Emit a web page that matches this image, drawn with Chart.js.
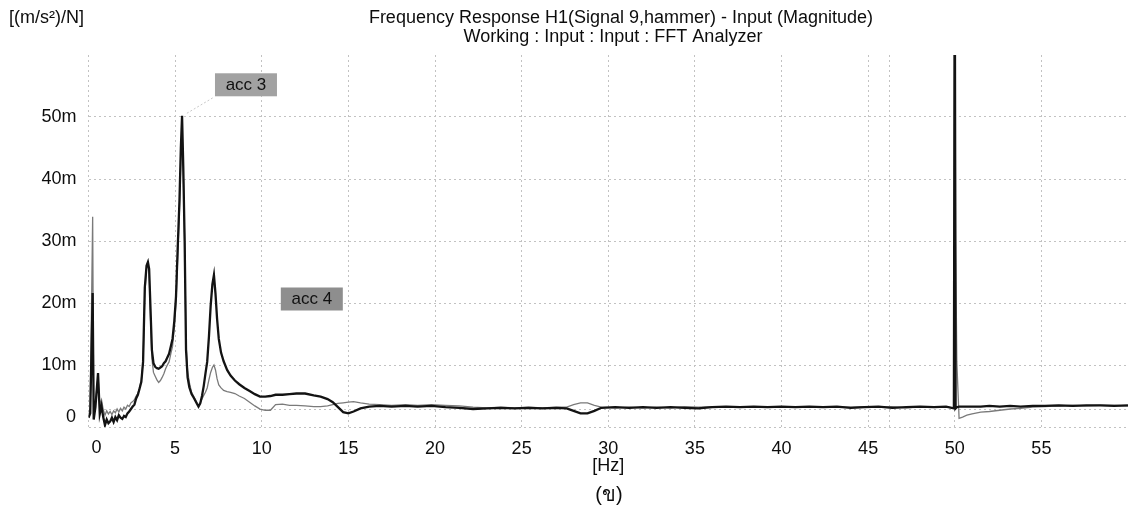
<!DOCTYPE html>
<html>
<head>
<meta charset="utf-8">
<script src="https://cdn.jsdelivr.net/npm/chart.js@4.4.1/dist/chart.umd.min.js"></script>
<style>
  html, body { margin: 0; padding: 0; background: #ffffff; }
  #wrap { position: relative; width: 1134px; height: 526px; }
  canvas { display: block; }
</style>
</head>
<body>
<div id="wrap"><canvas id="c" width="1134" height="526"></canvas></div>
<script>
// ---------- texts ----------
const titleLines = ['Frequency Response H1(Signal 9,hammer) - Input (Magnitude)', 'Working : Input : Input : FFT Analyzer'];
const unitLabel = '[(m/s\u00B2)/N]';
const xAxisTitle = '[Hz]';
const figureLabel = '(\u0E02)';
const seriesNames = ['acc 3', 'acc 4'];

// ---------- ticks ----------
const xTicks = [0, 5, 10, 15, 20, 25, 30, 35, 40, 45, 50, 55];
const xExtraLines = [46.25];
const yTicks = [0, 10, 20, 30, 40, 50];
const yTickLabels = ['0', '10m', '20m', '30m', '40m', '50m'];
const yExtraLines = [2.9];

// ---------- data (frequency in Hz, magnitude in m(m/s²)/N) ----------
const freq = [
  0, 0.1, 0.24, 0.3, 0.4, 0.55, 0.65, 0.75, 0.85, 0.95,
  1.05, 1.15, 1.25, 1.35, 1.45, 1.55, 1.65, 1.75, 1.85, 1.95,
  2.05, 2.15, 2.25, 2.35, 2.45, 2.55, 2.65, 2.75, 2.85, 2.95,
  3.05, 3.15, 3.25, 3.35, 3.43, 3.5, 3.58, 3.66, 3.75, 3.85,
  3.95, 4.05, 4.15, 4.25, 4.35, 4.45, 4.55, 4.65, 4.75, 4.85,
  4.95, 5.05, 5.15, 5.25, 5.33, 5.4, 5.47, 5.55, 5.63, 5.72,
  5.82, 5.95, 6.1, 6.25, 6.35, 6.45, 6.55, 6.65, 6.75, 6.85,
  6.95, 7.05, 7.15, 7.24, 7.33, 7.42, 7.52, 7.65, 7.8, 8.0,
  8.2, 8.45, 8.7, 9.0, 9.3, 9.6, 9.9, 10.2, 10.5, 10.8,
  11.2, 11.6, 12.0, 12.5, 13.0, 13.4, 13.8, 14.1, 14.4, 14.7,
  15.0, 15.3, 15.7, 16.2, 16.8, 17.5, 18.3, 19.0, 19.8, 20.6,
  21.4, 22.2, 23.0, 23.8, 24.6, 25.4, 26.2, 27.0, 27.6, 28.0,
  28.4, 28.8, 29.2, 29.6, 30.4, 31.2, 32.0, 32.8, 33.6, 34.4,
  35.2, 36.0, 36.8, 37.6, 38.4, 39.2, 40.0, 40.8, 41.6, 42.4,
  43.2, 44.0, 44.8, 45.6, 46.4, 47.2, 48.0, 48.8, 49.5, 49.95,
  50.0, 50.05, 50.12, 50.25, 50.45, 50.7, 51.0, 51.5, 52.0, 52.6,
  53.2, 53.8, 54.5, 55.2, 56.0, 56.8, 57.6, 58.4, 59.2, 60.0
];
const acc3 = [
  1.5, 2.2, 21.6, 1.2, 3.2, 8.7, 2.1, 3.4, 1.6, 0.3,
  1.2, 0.6, 0.9, 1.5, 0.8, 1.6, 1.1, 1.9, 1.5, 1.3,
  1.8, 1.6, 2.2, 2.5, 2.9, 3.3, 3.6, 4.6, 5.2, 6.2,
  7.3, 10.5, 22.5, 26.0, 26.6, 25.5, 19.0, 12.4, 10.3, 9.7,
  9.5, 9.4, 9.6, 9.8, 10.3, 10.6, 11.2, 11.8, 13.0, 14.2,
  17.0, 21.0, 29.0, 36.5, 45.0, 50.2, 42.0, 30.0, 12.4, 8.0,
  6.4, 5.3, 4.6, 3.8, 3.3, 3.8, 5.0, 6.6, 8.6, 10.5,
  14.5, 19.5, 23.0, 24.5, 21.5, 17.5, 14.2, 12.0, 10.6, 9.2,
  8.3, 7.5, 6.9, 6.3, 5.8, 5.3, 4.9, 4.9, 5.0, 5.2,
  5.2, 5.3, 5.4, 5.4, 5.1, 4.9, 4.5, 4.0, 3.2, 2.4,
  2.2, 2.5, 3.0, 3.3, 3.4, 3.3, 3.4, 3.3, 3.4, 3.2,
  3.1, 2.9, 3.0, 3.1, 3.0, 3.1, 3.0, 3.1, 3.0, 2.6,
  2.2, 2.2, 2.6, 3.1, 3.2, 3.1, 3.2, 3.1, 3.2, 3.1,
  3.0, 3.2, 3.3, 3.2, 3.3, 3.2, 3.3, 3.2, 3.3, 3.2,
  3.3, 3.1, 3.2, 3.3, 3.1, 3.2, 3.3, 3.2, 3.3, 3.0,
  80, 3.0, 3.2, 3.3, 3.3, 3.3, 3.3, 3.3, 3.4, 3.3,
  3.4, 3.3, 3.4, 3.4, 3.5, 3.4, 3.5, 3.5, 3.4, 3.5
];
const acc4 = [
  2.0, 3.0, 33.9, 2.4, 4.0, 8.2, 3.6, 4.4, 2.8, 1.9,
  2.6, 2.1, 2.5, 2.0, 2.6, 2.3, 2.9, 2.4, 3.0, 2.6,
  3.2, 2.9, 3.5, 3.3, 3.9, 4.1, 4.4, 5.0, 5.4, 6.4,
  7.6, 10.5, 21.5, 25.5, 26.3, 25.0, 17.5, 11.0, 8.8, 8.2,
  7.6, 7.2, 7.5, 8.0, 8.6, 9.4, 10.0, 10.5, 11.8, 13.0,
  16.0, 20.0, 27.5, 35.0, 43.0, 48.5, 41.0, 30.0, 13.5, 9.0,
  7.2, 5.6, 4.8, 4.0, 3.5, 3.9, 4.5, 5.1, 5.6, 6.3,
  7.6, 8.8, 9.6, 10.0, 9.2, 7.8, 6.8, 6.3, 5.9, 5.7,
  5.6, 5.4, 5.0, 4.6, 4.0, 3.4, 2.9, 2.7, 2.7, 3.6,
  3.7, 3.5, 3.5, 3.4, 3.3, 3.3, 3.4, 3.6, 3.8, 3.9,
  4.0, 4.1, 3.9, 3.7, 3.6, 3.5, 3.6, 3.5, 3.6, 3.5,
  3.4, 3.2, 3.1, 3.2, 3.1, 3.2, 3.1, 3.2, 3.2, 3.6,
  3.9, 3.9, 3.5, 3.2, 3.1, 3.2, 3.1, 3.2, 3.1, 3.3,
  3.2, 3.3, 3.2, 3.3, 3.2, 3.3, 3.2, 3.3, 3.2, 3.3,
  3.2, 3.2, 3.3, 3.2, 3.3, 3.1, 3.2, 3.3, 3.2, 3.1,
  80, 30, 10.5, 1.4, 1.6, 1.9, 2.1, 2.4, 2.5, 2.7,
  2.9, 3.0, 3.2, 3.3, 3.4, 3.5, 3.4, 3.5, 3.5, 3.4
];

// ---------- annotation anchors (data coordinates) ----------
const labelAnchors = [
  { text: seriesNames[0], f: 7.3, v: 57.05, fill: '#a2a2a2', leader: [5.68, 50.6, 7.18, 53.1] },
  { text: seriesNames[1], f: 11.1, v: 22.5, fill: '#8e8e8e', leader: null }
];

const FONT = '"Liberation Sans", Arial, sans-serif';
const TXT = '#0d0d0d';

const toXY = (ys) => freq.map((f, i) => ({ x: f, y: ys[i] }));

const overlay = {
  id: 'overlay',
  afterDatasetsDraw(chart) {
    const { ctx, scales: { x, y } } = chart;
    ctx.save();
    labelAnchors.forEach(a => {
      if (a.leader) {
        ctx.strokeStyle = '#c8c8c8';
        ctx.lineWidth = 1;
        ctx.setLineDash([2, 2]);
        ctx.beginPath();
        ctx.moveTo(x.getPixelForValue(a.leader[0]), y.getPixelForValue(a.leader[1]));
        ctx.lineTo(x.getPixelForValue(a.leader[2]), y.getPixelForValue(a.leader[3]));
        ctx.stroke();
        ctx.setLineDash([]);
      }
      const bx = x.getPixelForValue(a.f), by = y.getPixelForValue(a.v);
      ctx.fillStyle = a.fill;
      ctx.fillRect(bx, by, 62, 23);
      ctx.fillStyle = '#111';
      ctx.font = '17px ' + FONT;
      ctx.textAlign = 'center';
      ctx.textBaseline = 'middle';
      ctx.fillText(a.text, bx + 31, by + 12);
    });
    ctx.restore();
  },
  afterDraw(chart) {
    const { ctx, scales: { x, y } } = chart;
    ctx.save();
    ctx.fillStyle = TXT;
    ctx.textBaseline = 'middle';
    ctx.font = '18px ' + FONT;
    ctx.textAlign = 'center';
    ctx.fillText(titleLines[0], 621, 18);
    ctx.fillText(titleLines[1], 613, 37);
    ctx.textAlign = 'left';
    ctx.fillText(unitLabel, 9, 18);
    ctx.textAlign = 'center';
    ctx.fillText(String(xTicks[0]), x.getPixelForValue(0) + 8, 448);
    ctx.textAlign = 'right';
    ctx.fillText(yTickLabels[0], 76, y.getPixelForValue(0) - 10);
    ctx.textAlign = 'center';
    ctx.font = '20px ' + FONT;
    ctx.fillText(figureLabel, 609, 495);
    ctx.restore();
  }
};

new Chart(document.getElementById('c'), {
  type: 'line',
  data: {
    datasets: [
      { label: seriesNames[0], data: toXY(acc3), borderColor: '#131313', borderWidth: 2.3, pointRadius: 0, tension: 0, fill: false },
      { label: seriesNames[1], data: toXY(acc4), borderColor: '#7a7a7a', borderWidth: 1.3, pointRadius: 0, tension: 0, fill: false }
    ]
  },
  options: {
    responsive: false,
    animation: false,
    devicePixelRatio: 1,
    layout: { padding: { left: 0, right: 6, top: 55, bottom: 49 } },
    plugins: {
      legend: { display: false },
      tooltip: { enabled: false },
      title: { display: false }
    },
    scales: {
      x: {
        type: 'linear',
        min: 0,
        max: 60,
        afterBuildTicks: s => { s.ticks = xTicks.concat(xExtraLines).sort((a, b) => a - b).map(v => ({ value: v })); },
        afterFit: s => { s.height = 50; },
        grid: { color: '#c2c2c2', lineWidth: 1, drawTicks: false },
        border: { display: false, dash: [2, 3] },
        ticks: {
          padding: 11, maxRotation: 0, autoSkip: false, color: TXT,
          font: { family: FONT, size: 18 },
          callback: v => (xTicks.includes(v) && v !== 0) ? String(v) : ''
        },
        title: { display: true, text: xAxisTitle, color: TXT, font: { family: FONT, size: 18 }, padding: { top: 0, bottom: 0 } }
      },
      y: {
        type: 'linear',
        min: 0,
        max: 60,
        afterBuildTicks: s => { s.ticks = yTicks.concat(yExtraLines).sort((a, b) => a - b).map(v => ({ value: v })); },
        afterFit: s => { s.width = 88.5; },
        grid: { color: '#c2c2c2', lineWidth: 1, drawTicks: false },
        border: { display: false, dash: [2, 3] },
        ticks: {
          padding: 12, color: TXT,
          font: { family: FONT, size: 18 },
          callback: v => { const i = yTicks.indexOf(v); return (i > 0) ? yTickLabels[i] : ''; }
        }
      }
    }
  },
  plugins: [overlay]
});
</script>
</body>
</html>
